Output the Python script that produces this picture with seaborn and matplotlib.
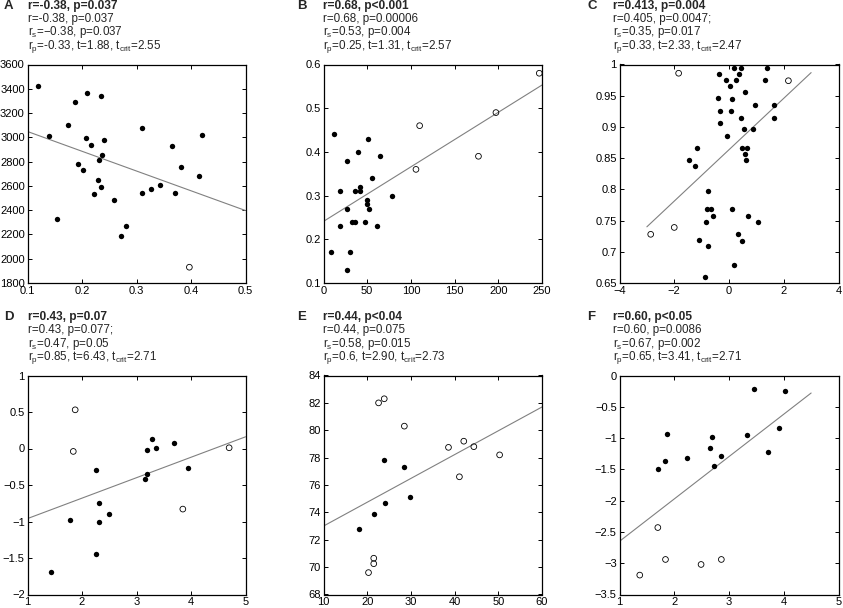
import numpy as np
import pandas as pd
import matplotlib
matplotlib.use('Agg')
import matplotlib.pyplot as plt
from matplotlib.ticker import FuncFormatter
import seaborn as sns

# ---- panel A ----
a_x = [0.119, 0.139, 0.154, 0.175, 0.188, 0.210, 0.234, 0.207, 0.216, 0.240,
       0.237, 0.231, 0.193, 0.202, 0.229, 0.235, 0.222, 0.258, 0.280, 0.272,
       0.311, 0.310, 0.327, 0.344, 0.366, 0.371, 0.382, 0.414, 0.420]
a_y = [3424, 3015, 2330, 3103, 3292, 3364, 3339, 2993, 2935, 2979,
       2858, 2812, 2781, 2732, 2647, 2592, 2531, 2482, 2273, 2185,
       3078, 2542, 2578, 2608, 2927, 2545, 2757, 2682, 3023]
a_x_open = [0.397]
a_y_open = [1930]
a_fit_x = [0.1, 0.5]
a_fit_y = [3048, 2397]

# ---- panel B ----
b_x = [8.5, 11.9, 18.8, 18.8, 27.3, 27.3, 26.9, 30.4, 33.1, 36.5, 36.5, 39.2,
       41.5, 42.3, 47.3, 49.2, 49.2, 50.8, 51.9, 55.4, 60.8, 65.0, 78.5]
b_y = [0.17, 0.44, 0.31, 0.23, 0.38, 0.27, 0.13, 0.17, 0.24, 0.24, 0.31, 0.40,
       0.32, 0.31, 0.24, 0.29, 0.28, 0.43, 0.27, 0.34, 0.23, 0.39, 0.30]
b_x_open = [105.8, 110.0, 177.3, 197.3, 246.9]
b_y_open = [0.36, 0.46, 0.39, 0.49, 0.58]
b_fit_x = [0, 250]
b_fit_y = [0.241, 0.553]

# ---- panel C ----
c_x = [0.18, 0.43, 1.39, -0.35, 0.36, -0.12, 0.25, 1.33, 0.05, 0.60, -0.40,
       0.12, 0.96, 1.63, -0.34, 0.07, 0.43, 1.63, -0.33, 0.54, 0.86, -0.08,
       -1.16, 0.48, 0.65, 0.57, -1.45, 0.63, -1.23, -0.77, -0.81, -0.64, 0.12,
       -0.57, 0.69, -0.84, 1.06, 0.34, 0.47, -1.08, -0.77, 0.18, -0.87]
c_y = [0.995, 0.995, 0.995, 0.985, 0.985, 0.975, 0.975, 0.975, 0.966, 0.956,
       0.946, 0.945, 0.935, 0.935, 0.926, 0.926, 0.915, 0.915, 0.906, 0.896,
       0.897, 0.886, 0.866, 0.866, 0.866, 0.857, 0.847, 0.847, 0.837, 0.798,
       0.768, 0.768, 0.768, 0.758, 0.758, 0.748, 0.748, 0.729, 0.718, 0.719,
       0.709, 0.679, 0.659]
c_x_open = [-1.84, 2.17, -2.0, -2.86]
c_y_open = [0.986, 0.974, 0.739, 0.728]
c_fit_x = [-3, 3]
c_fit_y = [0.74, 0.987]

# ---- panel D ----
d_x = [1.44, 1.78, 2.25, 2.25, 2.31, 2.31, 2.49, 3.15, 3.19, 3.19, 3.28, 3.35,
       3.68, 3.94]
d_y = [-1.69, -0.98, -0.29, -1.45, -0.74, -1.00, -0.90, -0.42, -0.35, -0.02,
       0.13, 0.01, 0.07, -0.265]
d_x_open = [1.875, 1.84, 3.85, 4.70]
d_y_open = [0.53, -0.04, -0.83, 0.01]
d_fit_x = [1, 5]
d_fit_y = [-0.96, 0.16]

# ---- panel E ----
e_x = [18.2, 21.6, 24.0, 23.9, 28.5, 29.7]
e_y = [72.8, 73.9, 74.7, 77.8, 77.3, 75.1]
e_x_open = [22.6, 23.9, 28.5, 38.6, 42.1, 44.4, 50.3, 41.1, 21.5, 21.5, 20.3]
e_y_open = [82.0, 82.3, 80.3, 78.75, 79.2, 78.8, 78.2, 76.6, 70.65, 70.25, 69.6]
e_fit_x = [10, 60]
e_fit_y = [73.0, 81.7]

# ---- panel F ----
f_x = [1.70, 1.83, 1.87, 2.24, 2.66, 2.69, 2.72, 2.86, 3.33, 3.46, 3.72, 3.92,
       4.02]
f_y = [-1.49, -1.37, -0.93, -1.32, -1.165, -0.98, -1.44, -1.28, -0.95, -0.21,
       -1.22, -0.84, -0.255]
f_x_open = [1.70, 1.37, 1.84, 2.49, 2.86]
f_y_open = [-2.43, -3.19, -2.94, -3.02, -2.94]
f_fit_x = [1, 4.5]
f_fit_y = [-2.65, -0.28]

# ticks
a_xticks = [0.1, 0.2, 0.3, 0.4, 0.5]
a_yticks = [1800, 2000, 2200, 2400, 2600, 2800, 3000, 3200, 3400, 3600]
b_xticks = [0, 50, 100, 150, 200, 250]
b_yticks = [0.1, 0.2, 0.3, 0.4, 0.5, 0.6]
c_xticks = [-4, -2, 0, 2, 4]
c_yticks = [0.65, 0.7, 0.75, 0.8, 0.85, 0.9, 0.95, 1]
d_xticks = [1, 2, 3, 4, 5]
d_yticks = [-2, -1.5, -1, -0.5, 0, 0.5, 1]
e_xticks = [10, 20, 30, 40, 50, 60]
e_yticks = [68, 70, 72, 74, 76, 78, 80, 82, 84]
f_xticks = [1, 2, 3, 4, 5]
f_yticks = [-3.5, -3, -2.5, -2, -1.5, -1, -0.5, 0]

# panel texts
letters = ['A', 'B', 'C', 'D', 'E', 'F']
headlines = ['r=-0.38, p=0.037', 'r=0.68, p<0.001', 'r=0.413, p=0.004',
             'r=0.43, p=0.07', 'r=0.44, p<0.04', 'r=0.60, p<0.05']
pearson = ['r=-0.38, p=0.037', 'r=0.68, p=0.00006', 'r=0.405, p=0.0047;',
           'r=0.43, p=0.077;', 'r=0.44, p=0.075', 'r=0.60, p=0.0086']
spearman = ['\u22120.38, p=0.037', '0.53, p=0.004', '0.35, p=0.017',
            '0.47, p=0.05', '0.58, p=0.015', '0.67, p=0.002']
partial_r = ['-0.33', '0.25', '0.33', '0.85', '0.6', '0.65']
t_vals = ['1.88', '1.31', '2.33', '6.43', '2.90', '3.41']
t_crit = ['2.55', '2.57', '2.47', '2.71', '2.73', '2.71']

panels = [
    dict(x=a_x, y=a_y, xo=a_x_open, yo=a_y_open, fx=a_fit_x, fy=a_fit_y, xt=a_xticks, yt=a_yticks),
    dict(x=b_x, y=b_y, xo=b_x_open, yo=b_y_open, fx=b_fit_x, fy=b_fit_y, xt=b_xticks, yt=b_yticks),
    dict(x=c_x, y=c_y, xo=c_x_open, yo=c_y_open, fx=c_fit_x, fy=c_fit_y, xt=c_xticks, yt=c_yticks),
    dict(x=d_x, y=d_y, xo=d_x_open, yo=d_y_open, fx=d_fit_x, fy=d_fit_y, xt=d_xticks, yt=d_yticks),
    dict(x=e_x, y=e_y, xo=e_x_open, yo=e_y_open, fx=e_fit_x, fy=e_fit_y, xt=e_xticks, yt=e_yticks),
    dict(x=f_x, y=f_y, xo=f_x_open, yo=f_y_open, fx=f_fit_x, fy=f_fit_y, xt=f_xticks, yt=f_yticks),
]

sns.set_style('ticks')
plt.rcParams['font.family'] = ['Liberation Sans', 'DejaVu Sans']
plt.rcParams['mathtext.default'] = 'regular'

W, H = 843, 608
fig = plt.figure(figsize=(W / 100, H / 100), dpi=100)

# axes boxes in pixels: left, right (per column), top, bottom (per row)
col_lr = [(27.5, 245.5), (323.5, 542), (619.5, 838.5)]
row_tb = [(64.5, 283), (375.5, 594.5)]
letter_x = [4, 297, 587]
text_x = [28, 323, 613]
fs = 8.4

fmt = FuncFormatter(lambda v, _: f'{v:g}'.replace('-', '\u2212'))


def yfig(px):
    return 1 - px / H


for i, p in enumerate(panels):
    r, c = divmod(i, 3)
    l, rr = col_lr[c]
    t, b = row_tb[r]
    ax = fig.add_axes([l / W, 1 - b / H, (rr - l) / W, (b - t) / H])

    sns.lineplot(x=p['fx'], y=p['fy'], ax=ax, color='0.5', linewidth=0.8, zorder=1)
    sns.scatterplot(x=p['x'], y=p['y'], ax=ax, color='black', s=15, linewidth=0, zorder=3)
    sns.scatterplot(x=p['xo'], y=p['yo'], ax=ax, facecolor='none', edgecolor='black',
                    s=17, linewidth=0.6, zorder=3)

    ax.set_xlim(p['xt'][0], p['xt'][-1])
    ax.set_ylim(p['yt'][0], p['yt'][-1])
    ax.set_xticks(p['xt'])
    ax.set_yticks(p['yt'])
    ax.xaxis.set_major_formatter(fmt)
    ax.yaxis.set_major_formatter(fmt)
    ax.tick_params(direction='in', top=True, right=True, length=3, width=0.7,
                   labelsize=8, pad=2, colors='black')
    for sp in ax.spines.values():
        sp.set_visible(True)
        sp.set_linewidth(0.9)
        sp.set_color('black')
    ax.set_xlabel('')
    ax.set_ylabel('')

    # text block above the axes
    fig.text(letter_x[c] / W, yfig(t - 55.5), letters[i], fontsize=9.5,
             fontweight='bold', va='baseline')
    fig.text(text_x[c] / W, yfig(t - 55.5), headlines[i], fontsize=fs + 0.2,
             fontweight='bold', va='baseline')
    fig.text(text_x[c] / W, yfig(t - 42.3), pearson[i], fontsize=fs,
             color='0.15', va='baseline')
    fig.text(text_x[c] / W, yfig(t - 29), r'r$_{s}$=' + spearman[i], fontsize=fs,
             color='0.15', va='baseline')
    fig.text(text_x[c] / W, yfig(t - 15.7),
             r'r$_{p}$=' + partial_r[i] + ', t=' + t_vals[i] + r', t$_{crit}$=' + t_crit[i],
             fontsize=fs, color='0.15', va='baseline')

fig.savefig('out.png', dpi=100)
